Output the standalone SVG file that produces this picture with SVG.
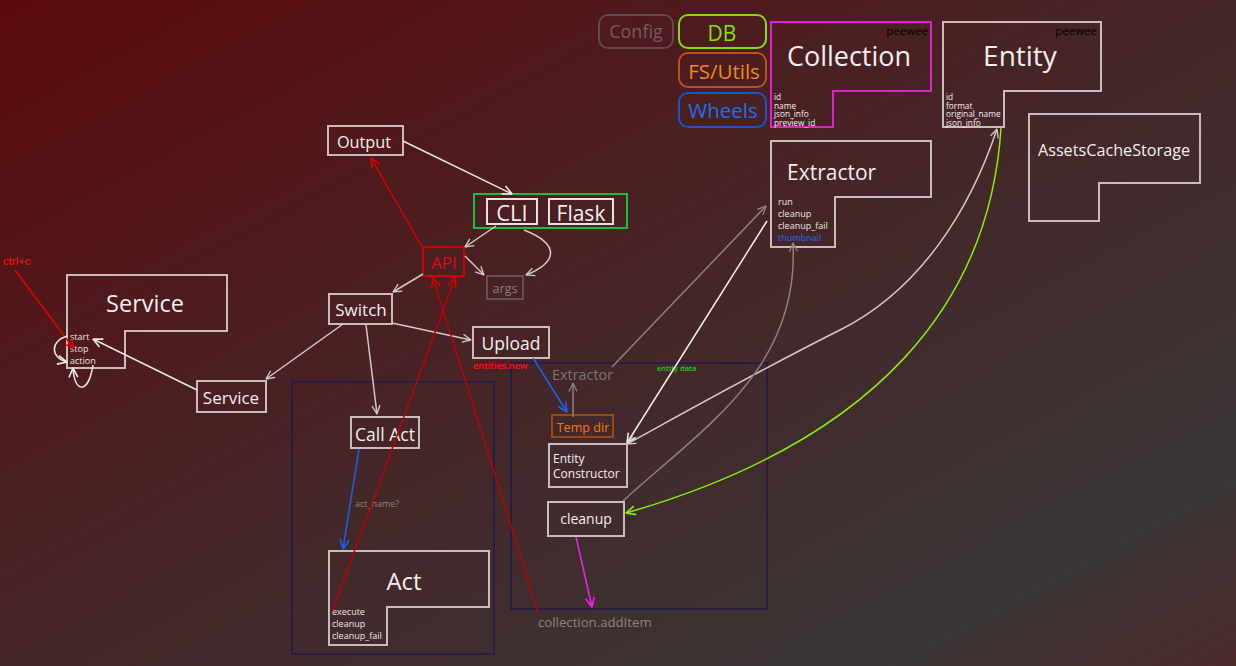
<svg xmlns="http://www.w3.org/2000/svg" width="1236" height="666" viewBox="0 0 1236 666">
<defs>
<linearGradient id="bg" x1="0" y1="0" x2="1" y2="1">
<stop offset="0" stop-color="#5c0a0c"/>
<stop offset="0.5" stop-color="#452628"/>
<stop offset="0.85" stop-color="#3a3636"/>
<stop offset="1" stop-color="#4c2a2a"/>
</linearGradient>
<marker id="aw" viewBox="0 0 10 10" refX="9.5" refY="5" markerWidth="11" markerHeight="11" markerUnits="userSpaceOnUse" orient="auto-start-reverse"><path d="M1,1 L9.5,5 L1,9" fill="none" stroke="#ece6e6" stroke-width="1.5"/></marker>
<marker id="al" viewBox="0 0 10 10" refX="9.5" refY="5" markerWidth="10" markerHeight="10" markerUnits="userSpaceOnUse" orient="auto-start-reverse"><path d="M1,1 L9.5,5 L1,9" fill="none" stroke="#d2caca" stroke-width="1.3"/></marker>
<marker id="ag" viewBox="0 0 10 10" refX="9.5" refY="5" markerWidth="10" markerHeight="10" markerUnits="userSpaceOnUse" orient="auto-start-reverse"><path d="M1,1 L9.5,5 L1,9" fill="none" stroke="#8a8282" stroke-width="1.3"/></marker>
<marker id="ar" viewBox="0 0 10 10" refX="9.5" refY="5" markerWidth="11" markerHeight="11" markerUnits="userSpaceOnUse" orient="auto-start-reverse"><path d="M1,1 L9.5,5 L1,9" fill="none" stroke="#d80000" stroke-width="1.5"/></marker>
<marker id="ab" viewBox="0 0 10 10" refX="9.5" refY="5" markerWidth="11" markerHeight="11" markerUnits="userSpaceOnUse" orient="auto-start-reverse"><path d="M1,1 L9.5,5 L1,9" fill="none" stroke="#1464f0" stroke-width="1.5"/></marker>
<marker id="am" viewBox="0 0 10 10" refX="9.5" refY="5" markerWidth="11" markerHeight="11" markerUnits="userSpaceOnUse" orient="auto-start-reverse"><path d="M1,1 L9.5,5 L1,9" fill="none" stroke="#f020f0" stroke-width="1.5"/></marker>
<marker id="ay" viewBox="0 0 10 10" refX="9.5" refY="5" markerWidth="11" markerHeight="11" markerUnits="userSpaceOnUse" orient="auto-start-reverse"><path d="M1,1 L9.5,5 L1,9" fill="none" stroke="#88f000" stroke-width="1.5"/></marker>
</defs>
<style>
text{font-family:"Open Sans","Noto Sans",sans-serif;}
.box{fill:none;stroke:#c8bcbc;stroke-width:2;}
.t{fill:#f2eeee;}
.f{fill:#ece6e6;font-size:9px;}
.ff{fill:#f4f0f0;font-size:8.3px;}
.pw{fill:#000;font-size:11.5px;}
.grp{fill:none;stroke:#221a4c;stroke-width:1.6;}
.c{fill:none;stroke-width:1.5;}
</style>
<rect x="0" y="0" width="1236" height="666" fill="url(#bg)"/>

<g id="group-left"><rect class="grp" x="292" y="382" width="202" height="272"/></g>
<g id="group-right"><rect class="grp" x="511" y="363" width="256" height="246"/></g>

<g id="legend-config"><rect x="599" y="15" width="74" height="33" rx="9" fill="none" stroke="#5e4a54" stroke-width="2"/><text x="636" y="38" font-size="18" text-anchor="middle" fill="#6e5e64">Config</text></g>
<g id="legend-db"><rect x="679" y="15" width="87" height="33" rx="9" fill="none" stroke="#80e000" stroke-width="2"/><text x="722" y="41" font-size="21" text-anchor="middle" fill="#84e400">DB</text></g>
<g id="legend-fs"><rect x="679" y="53" width="87" height="34" rx="9" fill="none" stroke="#b85418" stroke-width="2"/><text x="724" y="79" font-size="20.5" text-anchor="middle" fill="#f08a10">FS/Utils</text></g>
<g id="legend-wheels"><rect x="679" y="93" width="87" height="34" rx="9" fill="none" stroke="#1058cc" stroke-width="2"/><text x="723" y="118" font-size="20.5" text-anchor="middle" fill="#1e6ef0">Wheels</text></g>

<g id="collection"><path d="M771,22 H931 V91 H833 V127 H771 Z" fill="none" stroke="#e020d0" stroke-width="2"/>
<text class="pw" x="928" y="35" text-anchor="end">peewee</text>
<text class="t" x="849" y="66" font-size="27" text-anchor="middle">Collection</text>
<text class="ff" x="774" y="100">id</text><text class="ff" x="774" y="108.5">name</text><text class="ff" x="774" y="117">json_info</text><text class="ff" x="774" y="125.5">preview_id</text></g>

<g id="entity"><path d="M943,22 H1101 V91 H1004 V127 H943 Z" class="box"/>
<text class="pw" x="1097" y="35" text-anchor="end">peewee</text>
<text class="t" x="1020" y="66" font-size="28" text-anchor="middle">Entity</text>
<text class="ff" x="946" y="100">id</text><text class="ff" x="946" y="108.5">format</text><text class="ff" x="946" y="117">original_name</text><text class="ff" x="946" y="125.5">json_info</text></g>

<g id="extractor"><path d="M771,141 H931 V197 H835 V247 H771 Z" class="box"/>
<text class="t" x="787" y="180" font-size="21">Extractor</text>
<text class="f" x="778" y="205">run</text><text class="f" x="778" y="217">cleanup</text><text class="f" x="778" y="229">cleanup_fail</text><text class="f" x="778" y="241" style="fill:#1a6af0">thumbnail</text></g>

<g id="assets-cache"><path d="M1029,114 H1200 V183 H1099 V221 H1029 Z" class="box"/>
<text class="t" x="1114" y="156" font-size="16.2" text-anchor="middle">AssetsCacheStorage</text></g>

<g id="service-main"><path d="M67,275 H227 V331 H125 V368 H67 Z" class="box"/>
<text class="t" x="145" y="312" font-size="23.5" text-anchor="middle">Service</text>
<text class="f" x="70" y="340">start</text><text class="f" x="70" y="352">stop</text><text class="f" x="70" y="364">action</text></g>

<g id="ctrl-c"><text x="3" y="265" font-size="11.5" fill="#ff1010" style="font-family:'Liberation Sans',sans-serif">ctrl+c</text></g>

<g id="service-small"><rect class="box" x="197" y="381" width="69" height="31"/><text class="t" x="231" y="404" font-size="17" text-anchor="middle">Service</text></g>

<g id="output"><rect class="box" x="328" y="126" width="75" height="29"/><text class="t" x="364" y="148" font-size="16.3" text-anchor="middle">Output</text></g>

<g id="cli-flask"><rect x="474" y="194" width="153" height="34" fill="none" stroke="#12c044" stroke-width="2"/>
<rect x="487" y="199" width="50" height="25" fill="none" stroke="#e8e2e2" stroke-width="2"/><text class="t" x="512" y="221" font-size="22" text-anchor="middle">CLI</text>
<rect x="549" y="199" width="64" height="25" fill="none" stroke="#e8e2e2" stroke-width="2"/><text class="t" x="581" y="221" font-size="21" text-anchor="middle">Flask</text></g>

<g id="api"><rect x="423" y="247" width="41" height="29" fill="none" stroke="#d00000" stroke-width="2"/><text x="444" y="269" font-size="17" text-anchor="middle" fill="#d81010">API</text></g>

<g id="args"><rect x="487" y="276" width="36" height="23" fill="none" stroke="#6c5c5c" stroke-width="1.6"/><text x="505" y="293" font-size="12.6" text-anchor="middle" fill="#868080">args</text></g>

<g id="switch"><rect class="box" x="329" y="294" width="63" height="30"/><text class="t" x="361" y="316" font-size="17" text-anchor="middle">Switch</text></g>

<g id="upload"><rect class="box" x="473" y="327" width="76" height="31"/><text class="t" x="511" y="350" font-size="17.5" text-anchor="middle">Upload</text>
<text x="473" y="369" font-size="9.2" font-weight="600" fill="#ff1010">entities.new</text></g>

<g id="call-act"><rect class="box" x="351" y="417" width="68" height="31"/><text class="t" x="385" y="441" font-size="17.5" text-anchor="middle">Call Act</text></g>

<g id="act"><path d="M329,551 H489 V607 H387 V645 H329 Z" class="box"/>
<text class="t" x="404" y="590" font-size="24" text-anchor="middle">Act</text>
<text class="f" x="332" y="615">execute</text><text class="f" x="332" y="627">cleanup</text><text class="f" x="332" y="639">cleanup_fail</text></g>

<g id="act-name-label"><text x="355" y="507" font-size="9" fill="#8a8282">act_name?</text></g>

<g id="extractor-ref"><text x="552" y="380" font-size="14.4" fill="#7c7474">Extractor</text></g>

<g id="temp-dir"><rect x="552" y="415" width="61" height="22" fill="none" stroke="#b05010" stroke-width="1.6"/><text x="583" y="432" font-size="12.6" text-anchor="middle" fill="#f07810">Temp dir</text></g>

<g id="entity-data-label"><text x="657" y="371" font-size="7.5" font-weight="600" fill="#10d010">entity data</text></g>

<g id="entity-constructor"><rect class="box" x="549" y="444" width="78" height="43"/><text class="t" x="553" y="463" font-size="12">Entity</text><text class="t" x="553" y="478" font-size="12">Constructor</text></g>

<g id="cleanup"><rect class="box" x="548" y="502" width="76" height="34"/><text class="t" x="586" y="524" font-size="14" text-anchor="middle">cleanup</text></g>

<g id="collection-additem"><text x="538" y="627" font-size="13.2" fill="#8a8282">collection.addItem</text></g>

<g id="connectors">
<path class="c" d="M403,141 L512,194" stroke="#ece6e6" marker-end="url(#aw)"/>
<path class="c" d="M422,247 L371,158" stroke="#d80000" stroke-width="2" marker-end="url(#ar)"/>
<path class="c" d="M496,226 L465,247" stroke="#d2caca" marker-end="url(#al)"/>
<path class="c" d="M465,256 L484,275" stroke="#d2caca" marker-end="url(#al)"/>
<path class="c" d="M524,230 C562,245 556,263 526,275" stroke="#d2caca" marker-end="url(#al)"/>
<path class="c" d="M423,274 L393,292" stroke="#d2caca" marker-end="url(#al)"/>
<path class="c" d="M343,324 L266,379" stroke="#d2caca" marker-end="url(#al)"/>
<path class="c" d="M392,323 L471,340" stroke="#d2caca" marker-end="url(#al)"/>
<path class="c" d="M366,325 L377,414" stroke="#d2caca" marker-end="url(#al)"/>
<path class="c" d="M197,390 L93,339" stroke="#ece6e6" marker-end="url(#aw)"/>
<path class="c" d="M15,270 L74,349" stroke="#e80000" marker-end="url(#ar)"/>
<path class="c" d="M68,336 C50,340 50,358 67,362" stroke="#ece6e6" marker-end="url(#aw)"/>
<path class="c" d="M93,365 C88,396 74,392 73,368" stroke="#ece6e6" marker-end="url(#aw)"/>
<path class="c" d="M359,449 L343,549" stroke="#1464f0" marker-end="url(#ab)"/>
<path class="c" d="M332,612 L455,278" stroke="#c00000" stroke-width="1.1" marker-end="url(#ar)"/>
<path class="c" d="M538,612 L433,278" stroke="#c00000" stroke-width="1.1" marker-end="url(#ar)"/>
<path class="c" d="M533,358 L567,412" stroke="#1464f0" stroke-width="2" marker-end="url(#ab)"/>
<path class="c" d="M573,417 L573,383" stroke="#8a8282" stroke-width="2" marker-end="url(#ag)"/>
<path class="c" d="M612,367 L766,206" stroke="#8a8282" stroke-width="1" marker-end="url(#ag)"/>
<path class="c" d="M767,221 L627,443" stroke="#f4f0f0" stroke-width="2" marker-end="url(#aw)"/>
<path class="c" d="M997,129 C970,210 920,290 840,330 C760,370 680,415 627,444" stroke="#d2caca" stroke-width="1.2" marker-start="url(#al)" marker-end="url(#al)"/>
<path class="c" d="M623,501 C700,430 800,370 793,243" stroke="#8a8282" stroke-width="1" marker-end="url(#ag)"/>
<path class="c" d="M1001,128 C990,300 880,440 626,513" stroke="#88f000" stroke-width="2" marker-end="url(#ay)"/>
<path class="c" d="M576,537 L592,607" stroke="#f020f0" stroke-width="2" marker-end="url(#am)"/>
</g>
</svg>
